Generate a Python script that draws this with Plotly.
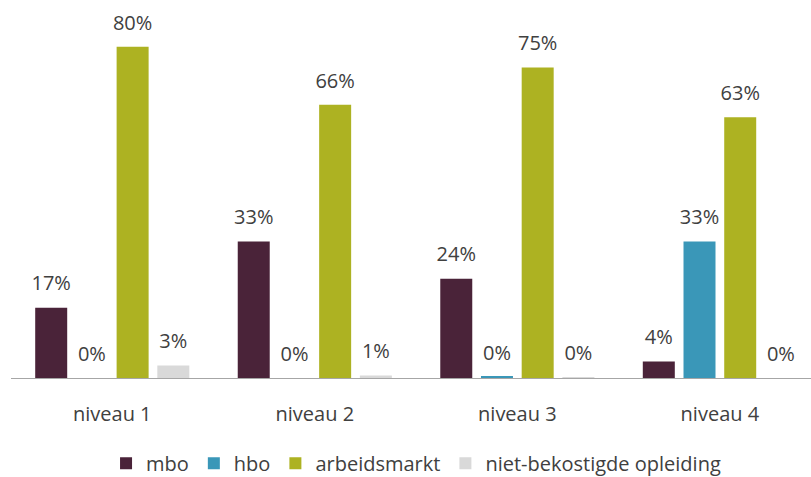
import plotly.graph_objects as go

categories = ["niveau 1", "niveau 2", "niveau 3", "niveau 4"]
series = ["mbo", "hbo", "arbeidsmarkt", "niet-bekostigde opleiding"]
mbo = [17, 33, 24, 4]
hbo = [0, 0, 0.3, 33]
arbeidsmarkt = [80, 66, 75, 63]
niet_bekostigd = [3, 0.6, 0.2, 0]
colors = ["#4a2339", "#3a97b8", "#adb222", "#d9d9d9"]

FONT = "Open Sans"
TXT = "#404040"
BARGAP = 0.196

fig = go.Figure()
for name, vals, col in zip(series, [mbo, hbo, arbeidsmarkt, niet_bekostigd], colors):
    fig.add_trace(go.Bar(x=categories, y=vals, name=name, marker=dict(color=col, line_width=0),
                         hoverinfo="skip"))
# percentage labels, grouped the same way as the bars
for name, vals in zip(series, [mbo, hbo, arbeidsmarkt, niet_bekostigd]):
    fig.add_trace(go.Scatter(x=categories, y=vals, mode="markers+text",
                             text=[f"{v:.0f}%" for v in vals], textposition="top center",
                             textfont=dict(family=FONT, size=20, color=TXT),
                             marker=dict(size=18, opacity=0), showlegend=False,
                             hoverinfo="skip", cliponaxis=False))

fig.update_layout(
    width=811, height=477,
    margin=dict(l=11, r=0, t=10, b=99),
    barmode="group", bargap=BARGAP, bargroupgap=0.214,
    scattermode="group", scattergap=BARGAP,
    plot_bgcolor="white", paper_bgcolor="white",
    font=dict(family=FONT, size=20, color=TXT),
    showlegend=True,
    legend=dict(orientation="h", xref="container", yref="container", x=0.513, y=0.029,
                xanchor="center", yanchor="middle", font=dict(size=20, color=TXT),
                itemwidth=30, traceorder="normal"),
)
fig.update_xaxes(range=[-0.5, 3.45], showline=True, linecolor="#a6a6a6", linewidth=1,
                 ticks="", ticklabelstandoff=18, showgrid=False,
                 tickfont=dict(family=FONT, size=20, color=TXT))
fig.update_yaxes(range=[0, 88.9], visible=False)

fig.write_html("out.html", config={"displayModeBar": False},
               post_script="document.body.style.margin='0';document.body.style.overflow='hidden';")
